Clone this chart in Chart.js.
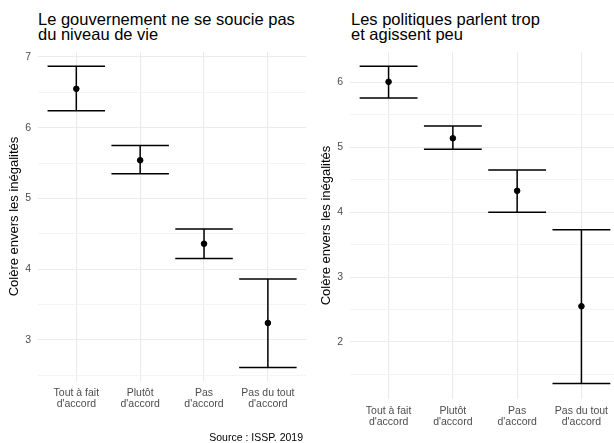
<!DOCTYPE html>
<html>
<head>
<meta charset="utf-8">
<script src="https://cdn.jsdelivr.net/npm/chart.js@4/dist/chart.umd.min.js"></script>
<style>
  html, body { margin: 0; padding: 0; background: #fff; }
  body { width: 614px; height: 443px; position: relative; overflow: hidden; font-family: 'Liberation Sans', Arial, sans-serif; }
  .title { position: absolute; top: 12px; font-size: 16.5px; line-height: 15px; color: #000; white-space: nowrap; }
  .caption { position: absolute; top: 431px; right: 311px; font-size: 10.5px; line-height: 12px; color: #000; }
  .panel { position: absolute; top: 0; }
</style>
</head>
<body>
<div class="title" style="left:38px">Le gouvernement ne se soucie pas<br>du niveau de vie</div>
<div class="title" style="left:351px">Les politiques parlent trop<br>et agissent peu</div>
<div class="panel" style="left:0;width:310px;height:443px"><canvas id="govChart"></canvas></div>
<div class="panel" style="left:310px;width:330px;height:443px"><canvas id="polChart"></canvas></div>
<div class="caption">Source : ISSP. 2019</div>

<script>
const categories = [['Tout à fait', "d'accord"], ['Plutôt', "d'accord"], ['Pas', "d'accord"], ['Pas du tout', "d'accord"]];

// panel 1 : "Le gouvernement ne se soucie pas du niveau de vie"
const govMean = [6.55, 5.54, 4.36, 3.24];
const govLow = [6.24, 5.35, 4.15, 2.61];
const govHigh = [6.87, 5.75, 4.57, 3.86];

// panel 2 : "Les politiques parlent trop et agissent peu"
const polMean = [6.01, 5.14, 4.33, 2.55];
const polLow = [5.76, 4.97, 4.00, 1.36];
const polHigh = [6.25, 5.33, 4.65, 3.73];

const yTitle = 'Colère envers les inégalités';
const textGrey = '#4d4d4d';
const gridMajor = '#ebebeb';
const gridMinor = '#f4f4f4';

Chart.defaults.font.family = "'Liberation Sans', Arial, sans-serif";

// draws the error bars under the points, through the chart scales
const errorBars = {
    id: 'errorBars',
    beforeDatasetsDraw(chart) {
        const { ctx, scales: { x, y } } = chart;
        const ds = chart.data.datasets[0];
        ctx.save();
        ctx.strokeStyle = '#000';
        ctx.lineWidth = 1.5;
        ds.low.forEach((lo, i) => {
            const hi = ds.high[i];
            const cx = x.getPixelForValue(i + 1);
            const x0 = x.getPixelForValue(i + 1 - 0.45);
            const x1 = x.getPixelForValue(i + 1 + 0.45);
            const yLo = y.getPixelForValue(lo);
            const yHi = y.getPixelForValue(hi);
            ctx.beginPath();
            ctx.moveTo(cx, yLo); ctx.lineTo(cx, yHi);
            ctx.moveTo(x0, yLo); ctx.lineTo(x1, yLo);
            ctx.moveTo(x0, yHi); ctx.lineTo(x1, yHi);
            ctx.stroke();
        });
        ctx.restore();
    }
};

function makePanel(id, mean, low, high, cfg) {
    const ctx = document.getElementById(id).getContext('2d');
    return new Chart(ctx, {
        type: 'scatter',
        data: {
            datasets: [{
                data: mean.map((m, i) => ({ x: i + 1, y: m })),
                low: low,
                high: high,
                backgroundColor: '#000',
                borderColor: '#000',
                pointRadius: 2.8,
                pointHoverRadius: 2.8
            }]
        },
        options: {
            responsive: true,
            maintainAspectRatio: false,
            animation: false,
            layout: { padding: { top: 52, right: cfg.padRight, bottom: 0, left: 0 } },
            plugins: { legend: { display: false }, tooltip: { enabled: false } },
            scales: {
                x: {
                    type: 'linear',
                    min: 0.4,
                    max: 4.6,
                    afterFit: s => { s.height = cfg.xHeight; s.paddingLeft = 0; s.paddingRight = 0; },
                    border: { display: false },
                    grid: { drawTicks: false, color: gridMajor, lineWidth: 1.1 },
                    ticks: {
                        stepSize: 1,
                        includeBounds: false,
                        padding: 6,
                        color: textGrey,
                        font: { size: 10.5, lineHeight: 1.1 },
                        maxRotation: 0,
                        autoSkip: false,
                        callback: v => categories[v - 1] || ''
                    }
                },
                y: {
                    min: cfg.yMin,
                    max: cfg.yMax,
                    afterFit: s => { s.width = cfg.yWidth; },
                    border: { display: false },
                    grid: {
                        drawTicks: false,
                        color: c => Number.isInteger(c.tick.value) ? gridMajor : gridMinor,
                        lineWidth: c => Number.isInteger(c.tick.value) ? 1.1 : 1
                    },
                    ticks: {
                        stepSize: 0.5,
                        includeBounds: false,
                        padding: 7,
                        color: textGrey,
                        font: { size: 10.5 },
                        callback: v => Number.isInteger(v) ? v : ''
                    },
                    title: {
                        display: true,
                        text: yTitle,
                        color: '#000',
                        font: { size: 13 },
                        padding: { top: cfg.titlePad, bottom: 0 }
                    }
                }
            }
        },
        plugins: [errorBars]
    });
}

makePanel('govChart', govMean, govLow, govHigh, {
    yMin: 2.42, yMax: 7.07, yWidth: 38, xHeight: 62, padRight: 3, titlePad: 7
});
makePanel('polChart', polMean, polLow, polHigh, {
    yMin: 1.12, yMax: 6.47, yWidth: 40, xHeight: 44, padRight: 20, titlePad: 9
});
</script>
</body>
</html>
